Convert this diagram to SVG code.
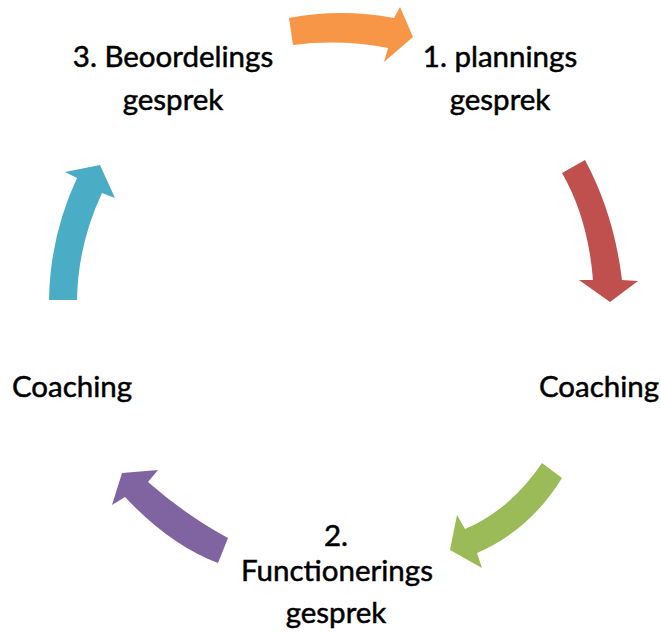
<svg xmlns="http://www.w3.org/2000/svg" width="661" height="633" viewBox="0 0 661 633">
  <style>
    .lbl { font-family: "Lato", "Open Sans", "Liberation Sans", sans-serif; font-size: 29.5px; fill: #000000; stroke: #000000; stroke-width: 0.5px; text-anchor: middle; }
  </style>
  <rect width="661" height="633" fill="#ffffff"/>

  <!-- curved cycle arrows -->
  <g id="connectors">
    <path id="arrow-top" fill="#F79646" d="M289,18 Q341,8 394,18 L400,7 L413,37 L384,62 L388,48 Q340,39 293,45 Z"/>
    <path id="arrow-right" fill="#C0504D" d="M562,173 L585,160 Q614,214 622,280 L638,281 L610,302 L579,280 L593,280 Q588,218 562,173 Z"/>
    <path id="arrow-bottom-right" fill="#9BBB59" d="M542,463 L562,478 Q530,530 477,553 L482,568 L450,550 L457,515 L465,529 Q510,510 542,463 Z"/>
    <path id="arrow-bottom-left" fill="#8064A2" d="M228,538 L218,563 Q170,545 125,497 L112,505 L122,473 L158,470 L148,482 Q187,516 228,538 Z"/>
    <path id="arrow-left" fill="#4BACC6" d="M49,300 L77,300 Q78,244 102,193 L115,198 L100,165 L65,172 L77,178 Q50,236 49,300 Z"/>
  </g>

  <g id="node-planning">
    <text class="lbl" x="500" y="67">1. plannings</text>
    <text class="lbl" x="500" y="110">gesprek</text>
  </g>

  <g id="node-coaching-right">
    <text class="lbl" x="599" y="397">Coaching</text>
  </g>

  <g id="node-functionering">
    <text class="lbl" x="336" y="546">2.</text>
    <text class="lbl" x="337" y="581">Functionerings</text>
    <text class="lbl" x="336" y="623">gesprek</text>
  </g>

  <g id="node-coaching-left">
    <text class="lbl" x="72" y="397">Coaching</text>
  </g>

  <g id="node-beoordeling">
    <text class="lbl" x="173" y="67">3. Beoordelings</text>
    <text class="lbl" x="173" y="110">gesprek</text>
  </g>
</svg>
